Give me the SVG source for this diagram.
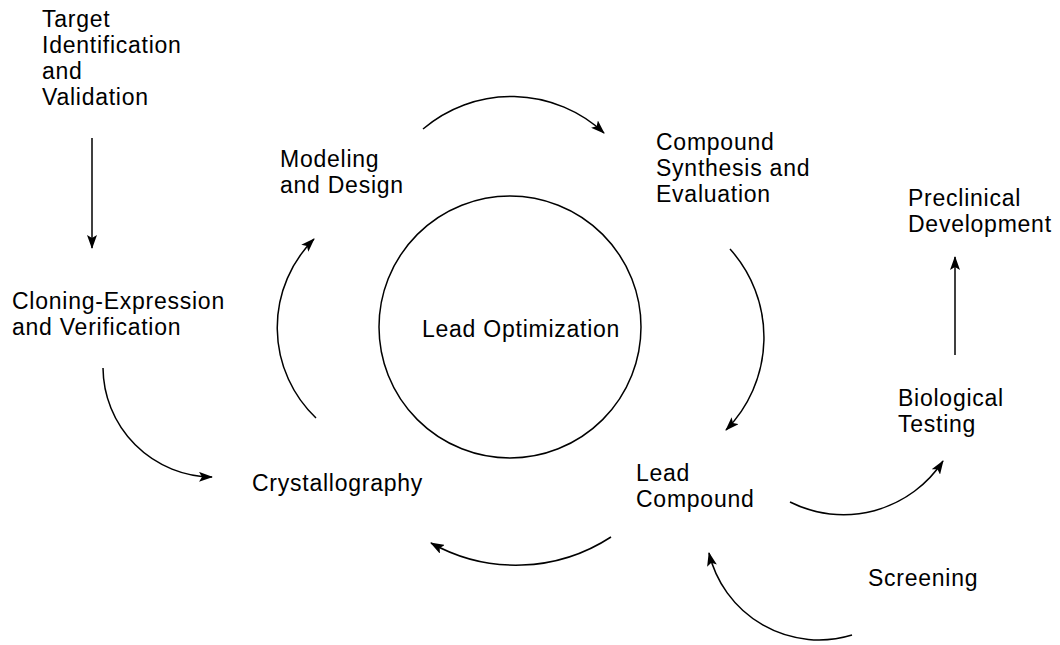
<svg xmlns="http://www.w3.org/2000/svg" width="1060" height="645" viewBox="0 0 1060 645">
<defs>
<style>
text{font-family:"Liberation Sans",Arial,Helvetica,sans-serif;font-size:23px;letter-spacing:0.75px;fill:#000}
.c{fill:none;stroke:#000;stroke-width:1.5}
</style>
<marker id="ah" viewBox="0 0 14 10" refX="13" refY="5" markerWidth="14" markerHeight="10" markerUnits="userSpaceOnUse" orient="auto">
<path d="M0,0 L14,5 L0,10 L3,5 z" fill="#000"/>
</marker>
</defs>
<rect width="1060" height="645" fill="#fff"/>
<g id="lead-optimization">
<circle cx="510" cy="327" r="131" fill="none" stroke="#000" stroke-width="1.5"/>
<text x="422" y="337">Lead Optimization</text>
</g>
<g id="target"><text x="42" y="27">Target</text><text x="42" y="53">Identification</text><text x="42" y="79">and</text><text x="42" y="105">Validation</text></g>
<g id="modeling"><text x="280" y="167">Modeling</text><text x="280" y="193">and Design</text></g>
<g id="compound-synthesis"><text x="656" y="150">Compound</text><text x="656" y="176">Synthesis and</text><text x="656" y="202">Evaluation</text></g>
<g id="preclinical"><text x="908" y="206">Preclinical</text><text x="908" y="232">Development</text></g>
<g id="cloning"><text x="12" y="309">Cloning-Expression</text><text x="12" y="335">and Verification</text></g>
<g id="biological"><text x="898" y="406">Biological</text><text x="898" y="432">Testing</text></g>
<g id="crystallography"><text x="252" y="491">Crystallography</text></g>
<g id="lead-compound"><text x="636" y="481">Lead</text><text x="636" y="507">Compound</text></g>
<g id="screening"><text x="868" y="586">Screening</text></g>
<g id="connectors">
<path class="c" d="M92,138 L92,248" marker-end="url(#ah)"/>
<path class="c" d="M955,355 L955,257" marker-end="url(#ah)"/>
<path class="c" d="M423,129 A136,136 0 0 1 604,133" marker-end="url(#ah)"/>
<path class="c" d="M730,249 A132,132 0 0 1 726,430" marker-end="url(#ah)"/>
<path class="c" d="M611,537 A174,174 0 0 1 431,543" marker-end="url(#ah)"/>
<path class="c" d="M316,418 A125,125 0 0 1 314,239" marker-end="url(#ah)"/>
<path class="c" d="M103,368 A110,110 0 0 0 212,477" marker-end="url(#ah)"/>
<path class="c" d="M790,502 A119,119 0 0 0 943,461" marker-end="url(#ah)"/>
<path class="c" d="M852,635 A113,113 0 0 1 709,553" marker-end="url(#ah)"/>
</g>
</svg>
